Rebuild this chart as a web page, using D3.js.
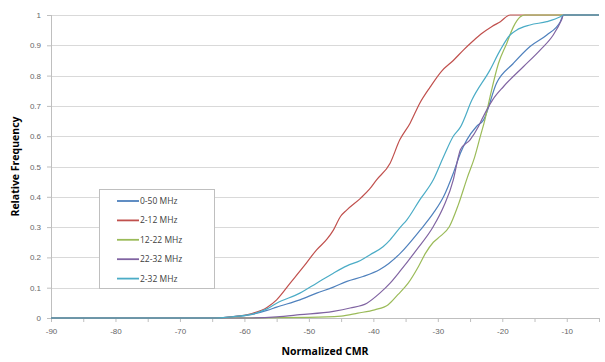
<!DOCTYPE html>
<html>
<head>
<meta charset="utf-8">
<script src="https://cdn.jsdelivr.net/npm/d3@7"></script>
<style>
  body { margin: 0; background: #fff; }
  svg { display: block; font-family: "Open Sans", "Liberation Sans", sans-serif; }
</style>
</head>
<body>
<div id="chart"></div>
<script>
// series names + colours (Excel 2007 palette)
var seriesNames = ["0-50 MHz", "2-12 MHz", "12-22 MHz", "22-32 MHz", "2-32 MHz"];
var seriesColors = ["#4f81bd", "#c0504d", "#9bbb59", "#8064a2", "#4bacc6"];

// [normalized CMR, relative frequency]
var band0to50 = [[-90,0],[-65,0],[-62,0.004],[-59,0.011],[-56.5,0.025],[-55,0.036],[-51.4,0.06],[-48.8,0.082],
  [-46.2,0.102],[-44.1,0.121],[-41.6,0.137],[-39,0.16],[-37.6,0.18],[-35.8,0.214],[-32.7,0.291],[-30.7,0.346],
  [-29.1,0.401],[-27.6,0.478],[-26.5,0.544],[-25.5,0.588],[-24,0.632],[-22.9,0.654],[-20.9,0.775],[-18.3,0.84],
  [-15.7,0.896],[-13.1,0.934],[-11,0.978],[-10.5,1],[-5,1]];
var band2to12 = [[-90,0],[-65,0],[-62,0.004],[-59,0.014],[-56.5,0.035],[-55,0.06],[-52.9,0.115],[-50.8,0.17],
  [-48.8,0.225],[-47.2,0.26],[-46.2,0.29],[-45.1,0.335],[-44.1,0.357],[-42,0.395],[-40.6,0.425],[-39.5,0.456],
  [-37.4,0.511],[-35.9,0.588],[-34.3,0.643],[-32.8,0.709],[-31.2,0.762],[-29.4,0.815],[-27.6,0.85],[-26,0.885],
  [-24.5,0.915],[-23.3,0.937],[-21.6,0.962],[-20.3,0.978],[-18.8,1],[-5,1]];
var band12to22 = [[-90,0],[-65,0],[-50,0.002],[-45,0.006],[-42.4,0.016],[-39.8,0.027],[-37.7,0.044],[-36.2,0.077],
  [-34.6,0.115],[-33,0.17],[-31.9,0.214],[-30.7,0.25],[-29.6,0.27],[-28.2,0.302],[-26.8,0.375],[-25.4,0.465],
  [-24.3,0.53],[-23.4,0.6],[-22.7,0.654],[-21.9,0.73],[-20.6,0.84],[-19.3,0.907],[-18.3,0.96],[-17.2,0.994],
  [-16.5,1],[-5,1]];
var band22to32 = [[-90,0],[-60,0],[-55,0.004],[-51.4,0.011],[-46.2,0.022],[-43.6,0.033],[-41,0.049],[-39,0.082],
  [-37.4,0.115],[-35.8,0.156],[-33.3,0.225],[-30.7,0.302],[-29.1,0.368],[-27.6,0.456],[-26.8,0.533],[-26.5,0.555],
  [-25,0.588],[-23.7,0.632],[-23.2,0.654],[-21.5,0.72],[-19.8,0.764],[-16.7,0.83],[-14.1,0.885],[-12.1,0.934],
  [-10.8,0.984],[-10.5,1],[-5,1]];
var band2to32 = [[-90,0],[-65,0],[-62,0.004],[-59,0.012],[-56.5,0.03],[-55,0.049],[-51.4,0.082],[-48.8,0.115],
  [-46.2,0.148],[-44.1,0.172],[-42,0.19],[-40.5,0.209],[-38.5,0.235],[-37.4,0.258],[-35.8,0.3],[-34.8,0.324],
  [-32.8,0.39],[-30.7,0.456],[-29.1,0.533],[-27.6,0.6],[-26.5,0.63],[-24.7,0.72],[-21.9,0.819],[-20.3,0.885],
  [-18.8,0.934],[-17.8,0.95],[-15.7,0.967],[-13.1,0.978],[-11,0.994],[-10.5,1],[-5,1]];

var seriesData = [band0to50, band2to12, band12to22, band22to32, band2to32];

var xTicks = [-90, -85, -80, -75, -70, -65, -60, -55, -50, -45, -40, -35, -30, -25, -20, -15, -10, -5];
var xLabels = [-90, -80, -70, -60, -50, -40, -30, -20, -10];
var yTicks = [0, 0.1, 0.2, 0.3, 0.4, 0.5, 0.6, 0.7, 0.8, 0.9, 1];

var W = 605, H = 362;
var margin = { top: 15, right: 6, bottom: 44, left: 51 },
  width = W - margin.left - margin.right,
  height = H - margin.top - margin.bottom;

var svg = d3.select("#chart").append("svg")
  .attr("width", W)
  .attr("height", H);

var g = svg.append("g")
  .attr("transform", "translate(" + margin.left + "," + margin.top + ")");

var x = d3.scaleLinear().domain([-90, -5]).range([0, width]);
var y = d3.scaleLinear().domain([0, 1]).range([height, 0]);

// gridlines
g.append("g")
  .selectAll("line")
  .data(yTicks.filter(function (d) { return d > 0; }))
  .join("line")
  .attr("x1", 0).attr("x2", width)
  .attr("y1", function (d) { return Math.round(y(d)) + 0.5; })
  .attr("y2", function (d) { return Math.round(y(d)) + 0.5; })
  .attr("stroke", "#d9d9d9")
  .attr("stroke-width", 1.2);

// y axis
var yAxis = g.append("g")
  .call(d3.axisLeft(y).tickValues(yTicks).tickSize(4).tickPadding(6)
    .tickFormat(function (d) { return d3.format("")(+d.toFixed(1)); }));
yAxis.select(".domain").attr("stroke", "#bfbfbf").attr("d", "M0.5,0V" + height);
yAxis.selectAll(".tick line").attr("stroke", "#bfbfbf");
yAxis.selectAll("text").attr("fill", "#666").style("font-size", "8px");

// x axis
var xAxis = g.append("g")
  .attr("transform", "translate(0," + height + ")")
  .call(d3.axisBottom(x).tickValues(xTicks).tickSize(4).tickPadding(6)
    .tickFormat(function (d) { return xLabels.indexOf(d) >= 0 ? d : ""; }));
xAxis.select(".domain").attr("stroke", "#bfbfbf").attr("d", "M0,0.5H" + width);
xAxis.selectAll(".tick line").attr("stroke", "#bfbfbf");
xAxis.selectAll("text").attr("fill", "#666").style("font-size", "8px");

// lines
var line = d3.line()
  .x(function (d) { return x(d[0]); })
  .y(function (d) { return y(d[1]); })
  .curve(d3.curveMonotoneX);

g.selectAll("path.series")
  .data(seriesData)
  .join("path")
  .attr("class", "series")
  .attr("fill", "none")
  .attr("stroke", function (d, i) { return seriesColors[i]; })
  .attr("stroke-width", 1.2)
  .attr("d", line);

// axis titles
svg.append("text")
  .attr("transform", "translate(19," + (margin.top + height / 2) + ") rotate(-90)")
  .attr("text-anchor", "middle")
  .style("font-size", "10.5px")
  .style("font-weight", "bold")
  .attr("fill", "#000")
  .text("Relative Frequency");

svg.append("text")
  .attr("x", margin.left + width / 2)
  .attr("y", 355)
  .attr("text-anchor", "middle")
  .style("font-size", "10.5px")
  .style("font-weight", "bold")
  .attr("fill", "#000")
  .text("Normalized CMR");

// legend
var legend = svg.append("g").attr("transform", "translate(99,189)");
legend.append("rect")
  .attr("x", 0.5).attr("y", 0.5)
  .attr("width", 115).attr("height", 99)
  .attr("fill", "#fff")
  .attr("stroke", "#bfbfbf");

var item = legend.selectAll("g.item")
  .data(seriesNames)
  .join("g")
  .attr("class", "item")
  .attr("transform", function (d, i) { return "translate(0," + (12 + i * 19.4) + ")"; });
item.append("line")
  .attr("x1", 18).attr("x2", 40)
  .attr("stroke", function (d, i) { return seriesColors[i]; })
  .attr("stroke-width", 1.8);
item.append("text")
  .attr("x", 41).attr("dy", "0.35em")
  .style("font-size", "8.5px")
  .attr("fill", "#404040")
  .text(function (d) { return d; });
</script>
</body>
</html>
